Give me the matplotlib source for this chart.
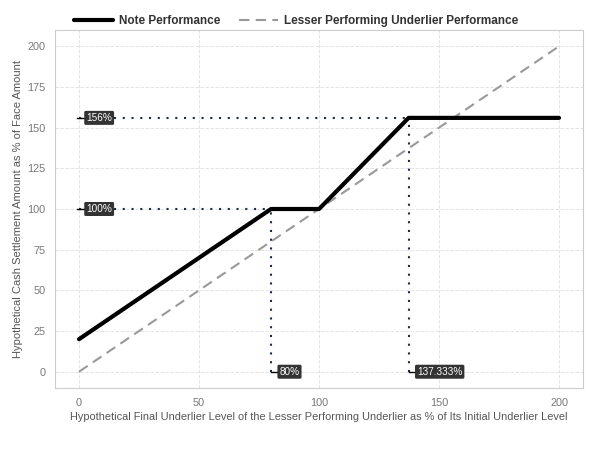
import numpy as np
from matplotlib import pyplot as plt

plt.rcParams['font.family'] = ['Liberation Sans', 'DejaVu Sans']

# payoff of the note
note_x = [0, 80, 100, 137.333, 200]
note_y = [20, 100, 100, 156, 156]

# underlier performance
under_x = [0, 200]
under_y = [0, 200]

# key levels
level_x = [80, 137.333]
level_y = [100, 156]
x_labels = ['80%', '137.333%']
y_labels = ['100%', '156%']

fig = plt.figure(figsize=(6, 4.5), dpi=100)
ax = fig.add_axes([0.0917, 0.1378, 0.88, 0.7955])

ax.plot(under_x, under_y, color='#999999', lw=1.5, ls=(0, (5, 3)),
        label='Lesser Performing Underlier Performance', zorder=3)
ax.plot(note_x, note_y, color='black', lw=3, label='Note Performance',
        solid_capstyle='round', zorder=4)

navy = '#1c2b4a'
for lx, ly in zip(level_x, level_y):
    ax.plot([0, lx], [ly, ly], color=navy, lw=1.5, ls=(0, (1, 3.2)), zorder=2)
    ax.plot([lx, lx], [0, ly], color=navy, lw=1.5, ls=(0, (1, 3.2)), zorder=2)

box = dict(boxstyle='round,pad=0.2,rounding_size=0.15', fc='#333333', ec='none')
for ly, t in zip(level_y, y_labels):
    ax.plot([-1, 2], [ly, ly], color='black', lw=1, zorder=5)
    ax.text(3, ly, t, color='white', fontsize=7.2, va='center', ha='left',
            bbox=box, zorder=6)
for lx, t in zip(level_x, x_labels):
    ax.plot([lx, lx + 2.5], [0, 0], color='black', lw=1, zorder=5)
    ax.text(lx + 3.5, 0, t, color='white', fontsize=7.2, va='center', ha='left',
            bbox=box, zorder=6)

ax.set_xlim(-10, 210)
ax.set_ylim(-10, 210)
ax.set_xticks([0, 50, 100, 150, 200])
ax.set_yticks([0, 25, 50, 75, 100, 125, 150, 175, 200])
ax.grid(True, which='major', color='#dedede', lw=0.6, ls=(0, (4, 2)))
ax.tick_params(which='both', length=0, labelsize=7.8, colors='#777777', pad=7)
for s in ax.spines.values():
    s.set_color('#cccccc')
    s.set_linewidth(0.8)

ax.set_xlabel('Hypothetical Final Underlier Level of the Lesser Performing Underlier as % of Its Initial Underlier Level',
              fontsize=7.9, color='#555555', labelpad=3)
ax.set_ylabel('Hypothetical Cash Settlement Amount as % of Face Amount',
              fontsize=8, color='#555555', labelpad=3)

h, l = ax.get_legend_handles_labels()
fig.legend(h[::-1], l[::-1], loc='center', bbox_to_anchor=(0.493, 0.953), ncol=2,
           frameon=False, prop={'weight': 'bold', 'size': 8.5}, handlelength=3.3,
           columnspacing=1.6, handletextpad=0.5, labelcolor='#333333')

plt.savefig('out.png', dpi=100)
